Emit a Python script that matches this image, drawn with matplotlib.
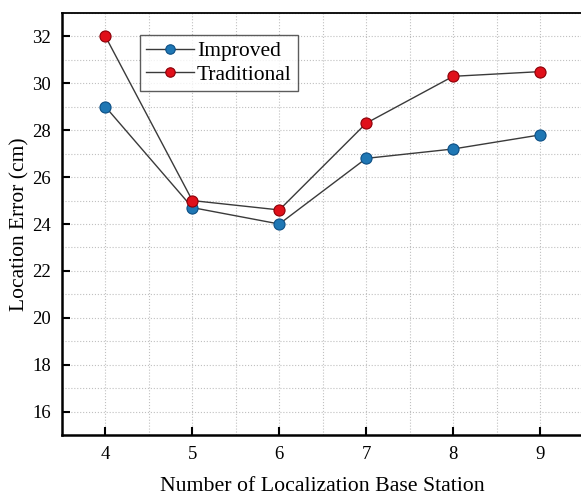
import matplotlib
matplotlib.use("Agg")
import matplotlib.pyplot as plt
from matplotlib.ticker import MultipleLocator

stations = [4, 5, 6, 7, 8, 9]
improved = [29.0, 24.7, 24.0, 26.8, 27.2, 27.8]
traditional = [32.0, 25.0, 24.6, 28.3, 30.3, 30.5]

plt.rcParams['font.family'] = ['Liberation Serif', 'DejaVu Serif']

fig = plt.figure(figsize=(5.81, 4.95), dpi=100)
ax = fig.add_axes([0.1067, 0.1212, 0.8976, 0.8525])

ax.plot(stations, improved, color='#3a3a3a', lw=1.0, marker='o', ms=8,
        mfc='#1f77b4', mec='#0d4f85', mew=0.8, label='Improved', zorder=3)
ax.plot(stations, traditional, color='#3a3a3a', lw=1.0, marker='o', ms=8,
        mfc='#e0101a', mec='#8a0008', mew=0.8, label='Traditional', zorder=3)

ax.set_xlim(3.5, 9.5)
ax.set_ylim(15, 33)
ax.xaxis.set_major_locator(MultipleLocator(1))
ax.xaxis.set_minor_locator(MultipleLocator(0.5))
ax.yaxis.set_major_locator(MultipleLocator(2))
ax.yaxis.set_minor_locator(MultipleLocator(1))
ax.grid(True, which='both', color='#c0c0c0', ls=':', lw=0.8)
ax.set_axisbelow(True)
ax.tick_params(which='major', direction='in', length=6, width=1.5, labelsize=13.5, pad=8)
ax.tick_params(which='minor', length=0)
for s in ['left', 'bottom']:
    ax.spines[s].set_linewidth(1.8)
ax.spines['top'].set_linewidth(1.3)
ax.spines['right'].set_linewidth(1.3)

ax.set_xlabel('Number of Localization Base Station', fontsize=15.7, labelpad=10)
ax.set_ylabel('Location Error (cm)', fontsize=15.5, labelpad=2)

leg = ax.legend(loc='upper left', bbox_to_anchor=(0.15, 0.948), fontsize=15.5,
                frameon=True, fancybox=False, edgecolor='#333333',
                handlelength=2.2, handletextpad=0.15, borderpad=0.28,
                labelspacing=0.18, borderaxespad=0, markerscale=0.85)
leg.get_frame().set_linewidth(1.0)

fig.savefig('out.png', dpi=100)
